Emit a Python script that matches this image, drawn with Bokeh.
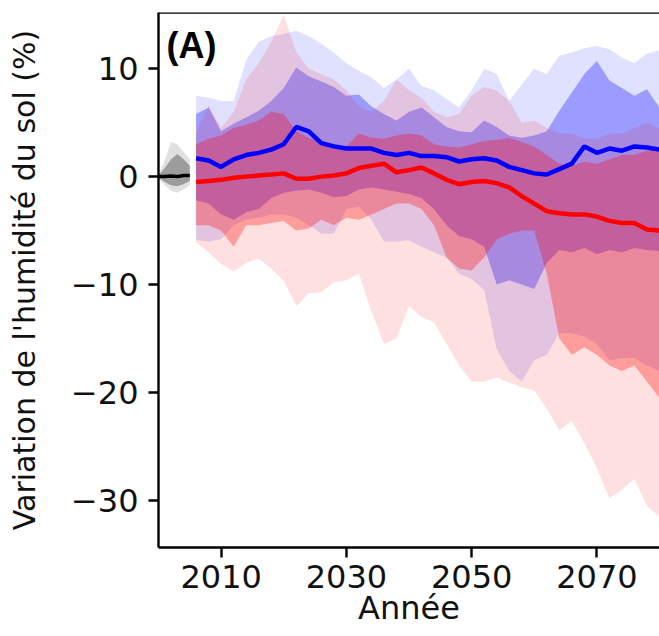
from bokeh.plotting import figure
from bokeh.models import Range1d, FixedTicker, Span, Label
from bokeh.embed import file_html
from bokeh.resources import INLINE

# ---------------- data ----------------
hist_years = [2000, 2001, 2002, 2003, 2004, 2005]
hist_med = [0.0, 0.0, 0.05, 0.0, 0.1, 0.1]
hist_out_hi = [0.2, 1.5, 3.2, 3.0, 2.3, 1.6]
hist_in_hi = [0.1, 0.8, 1.6, 2.1, 1.6, 1.0]
hist_in_lo = [-0.1, -0.5, -0.8, -0.9, -0.7, -0.4]
hist_out_lo = [-0.2, -0.8, -1.3, -1.5, -1.2, -0.8]

years = list(range(2006, 2081, 2))

blue_med = [1.7, 1.5, 0.9, 1.6, 2.0, 2.2, 2.5, 3.0, 4.6, 4.2, 3.1, 2.8, 2.6, 2.6, 2.6, 2.2,
            2.0, 2.2, 1.9, 1.9, 1.8, 1.4, 1.6, 1.7, 1.5, 0.9, 0.6, 0.3, 0.2, 0.7, 1.2, 2.8,
            2.2, 2.6, 2.4, 2.8, 2.7, 2.5]
red_med = [-0.5, -0.4, -0.3, -0.1, 0.0, 0.1, 0.2, 0.3, -0.2, -0.2, 0.0, 0.1, 0.3, 0.8, 1.0, 1.2,
           0.4, 0.6, 0.85, 0.3, -0.3, -0.7, -0.5, -0.4, -0.6, -1.0, -1.8, -2.5, -3.2, -3.4, -3.5, -3.5,
           -3.7, -4.1, -4.3, -4.3, -4.9, -5.0]

blue_out_hi = [7.5, 7.3, 7.0, 7.0, 10.8, 12.5, 13.0, 13.2, 13.5, 13.0, 12.3, 11.5, 10.5, 9.8, 9.2, 8.2,
               9.0, 10.0, 8.4, 8.0, 7.2, 6.4, 8.0, 10.0, 9.5, 7.0, 8.5, 10.0, 9.5, 11.2, 11.5, 11.9,
               12.1, 11.8, 11.0, 10.5, 11.4, 11.7]
blue_in_hi = [5.8, 6.4, 4.2, 4.9, 5.5, 6.1, 7.0, 8.2, 10.1, 9.3, 8.8, 8.3, 7.5, 7.6, 6.5, 5.8,
              5.2, 6.0, 6.4, 5.5, 4.6, 4.2, 4.1, 5.2, 4.6, 3.8, 3.6, 3.8, 4.2, 6.1, 7.8, 9.5,
              10.7, 8.9, 8.2, 7.5, 8.1, 6.4]
blue_in_lo = [-2.2, -2.5, -3.5, -4.0, -3.3, -3.0, -2.0, -1.5, -1.3, -1.2, -1.5, -1.9, -1.8, -1.2, -1.0, -1.2,
              -1.4, -1.6, -2.0, -3.0, -4.5, -5.5, -5.8, -6.5, -10.0, -9.6, -10.0, -10.4, -8.0, -6.8, -7.0, -6.6,
              -7.2, -6.8, -7.0, -6.6, -6.8, -6.9]
blue_out_lo = [-5.9, -6.0, -5.8, -4.5, -4.0, -3.8, -3.5, -3.5, -3.8, -4.5, -5.3, -5.3, -3.0, -2.8, -4.0, -6.0,
               -6.0, -5.9, -6.5, -7.0, -7.5, -9.0, -9.5, -10.5, -16.0, -18.0, -19.0, -17.0, -16.5, -14.5, -14.5, -14.8,
               -15.5, -17.0, -16.8, -16.8, -17.5, -18.0]

red_out_hi = [4.0, 6.6, 4.5, 6.0, 9.0, 10.5, 12.5, 15.0, 11.5, 10.0, 9.5, 9.0, 8.0, 6.5, 6.0, 7.0,
              9.0, 8.0, 7.3, 6.0, 5.5, 5.8, 7.5, 8.3, 8.0, 7.0, 5.0, 5.2, 4.5, 4.0, 4.0, 3.5,
              3.5, 4.0, 4.0, 4.5, 5.0, 4.5]
red_in_hi = [3.0, 3.5, 3.8, 4.5, 4.8, 5.2, 6.0, 5.8, 4.2, 3.6, 3.3, 3.0, 2.8, 4.0, 3.6, 3.5,
             3.8, 4.0, 3.8, 3.0, 2.8, 2.7, 3.0, 3.3, 3.4, 3.6, 3.2, 2.8, 2.0, 1.2, 1.0, 1.4,
             1.2, 1.6, 2.0, 2.0, 2.4, 2.5]
red_in_lo = [-4.5, -4.5, -5.0, -6.5, -4.5, -4.5, -4.3, -4.1, -5.0, -4.8, -4.0, -4.5, -3.8, -4.0, -3.5, -3.0,
             -2.5, -2.5, -3.0, -4.5, -7.5, -8.5, -8.7, -7.5, -5.8, -5.3, -5.0, -5.0, -9.0, -15.0, -16.5, -15.8,
             -16.5, -17.5, -18.0, -17.5, -19.0, -20.5]
red_out_lo = [-6.1, -7.0, -8.1, -8.8, -8.0, -7.6, -8.5, -9.7, -12.0, -10.8, -10.7, -9.8, -9.6, -9.0, -12.5, -15.5,
              -15.0, -12.0, -13.0, -13.5, -15.5, -17.5, -19.0, -19.0, -18.6, -19.1, -19.5, -19.8, -21.5, -23.5, -22.6, -24.7,
              -27.0, -29.8, -29.0, -28.0, -30.5, -31.5]

x_ticks = [2010, 2030, 2050, 2070]
y_ticks = [10, 0, -10, -20, -30]
y_tick_labels = ["10", "0", "\u221210", "\u221220", "\u221230"]

x_start, x_end = 2000, 2080
y_start, y_end = -34.35, 15.2

# ---------------- figure ----------------
FONT = "DejaVu Sans"
p = figure(width=659, height=636, output_backend="svg", toolbar_location=None,
           x_range=Range1d(x_start, x_end), y_range=Range1d(y_start, y_end),
           min_border_left=158, min_border_right=0, min_border_top=12, min_border_bottom=89)
p.grid.visible = False
p.outline_line_color = None
p.background_fill_color = "white"
p.border_fill_color = "white"

OUT_A, IN_A = 0.12, 0.3

# historical (grey)
p.varea(hist_years, hist_out_lo, hist_out_hi, fill_color="black", fill_alpha=OUT_A)
p.varea(hist_years, hist_in_lo, hist_in_hi, fill_color="black", fill_alpha=IN_A)

# blue scenario
p.varea(years, blue_out_lo, blue_out_hi, fill_color="blue", fill_alpha=OUT_A)
p.varea(years, blue_in_lo, blue_in_hi, fill_color="blue", fill_alpha=IN_A)
# red scenario
p.varea(years, red_out_lo, red_out_hi, fill_color="red", fill_alpha=OUT_A)
p.varea(years, red_in_lo, red_in_hi, fill_color="red", fill_alpha=IN_A)

p.line(hist_years, hist_med, line_color="black", line_width=3.5)
p.line(years, blue_med, line_color="blue", line_width=4.5)
p.line(years, red_med, line_color="red", line_width=4.5)

# top frame line
p.add_layout(Span(location=y_end, dimension="width", line_color="black", line_width=2.4))

# axes
for ax in (p.xaxis, p.yaxis):
    ax.axis_line_width = 2.4
    ax.axis_line_color = "black"
    ax.major_tick_line_width = 2.4
    ax.major_tick_line_color = "black"
    ax.major_tick_out = 10
    ax.major_tick_in = 0
    ax.minor_tick_line_color = None
    ax.major_label_text_font = FONT
    ax.major_label_text_font_size = "32px"
    ax.major_label_text_color = "#111111"
    ax.axis_label_text_font = FONT
    ax.axis_label_text_font_style = "normal"
    ax.axis_label_text_color = "#111111"

p.xaxis.axis_label_text_font_size = "32px"
p.yaxis.axis_label_text_font_size = "30px"
p.xaxis.ticker = FixedTicker(ticks=x_ticks)
p.yaxis.ticker = FixedTicker(ticks=y_ticks)
p.yaxis.major_label_overrides = dict(zip(y_ticks, y_tick_labels))
p.xaxis.major_label_standoff = 7
p.yaxis.major_label_standoff = 10
p.xaxis.axis_label = "Année"
p.yaxis.axis_label = "Variation de l'humidité du sol (%)"
p.xaxis.axis_label_standoff = -2
p.yaxis.axis_label_standoff = 26

p.add_layout(Label(x=8, y=523, x_units="screen", y_units="screen", text="(A)",
                   text_font="Liberation Sans", text_font_size="36px", text_font_style="bold",
                   text_baseline="top", text_color="black"))

open("out.html", "w").write(file_html(p, INLINE))
